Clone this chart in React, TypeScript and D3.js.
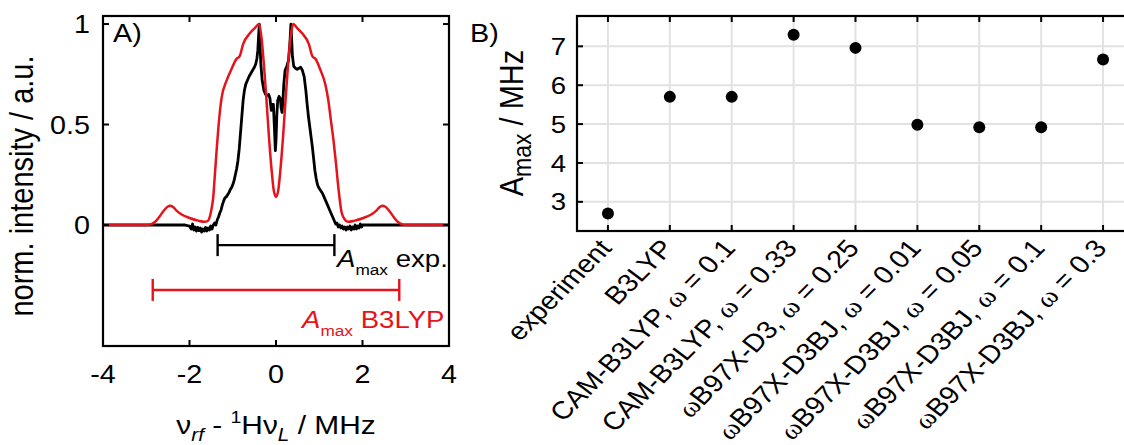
import React from "react";
import * as d3 from "d3";

// A) measured spectrum (black) and B3LYP simulation (red), x in MHz, y normalised
const specExp: [number, number][] = [
  [-4.0, 0], [-2.1, 0], [-2.0, -0.005], [-1.96, -0.02], [-1.93, 0.005], [-1.9, -0.025],
  [-1.87, -0.01], [-1.84, -0.03], [-1.81, -0.012], [-1.78, -0.028], [-1.75, -0.015],
  [-1.72, -0.035], [-1.69, -0.02], [-1.66, -0.03], [-1.63, -0.012], [-1.6, -0.03],
  [-1.57, -0.015], [-1.54, -0.025], [-1.51, -0.005], [-1.48, -0.02], [-1.45, 0.0],
  [-1.42, 0.01], [-1.39, 0.0], [-1.36, 0.025], [-1.33, 0.04], [-1.3, 0.06], [-1.27, 0.075],
  [-1.24, 0.1], [-1.21, 0.12], [-1.18, 0.135], [-1.15, 0.14], [-1.12, 0.15], [-1.09, 0.16],
  [-1.06, 0.175], [-1.03, 0.185], [-1.0, 0.2], [-0.97, 0.22], [-0.94, 0.25], [-0.91, 0.28],
  [-0.88, 0.32], [-0.85, 0.38], [-0.82, 0.46], [-0.79, 0.54], [-0.76, 0.62], [-0.73, 0.67],
  [-0.7, 0.7], [-0.66, 0.72], [-0.62, 0.74], [-0.58, 0.755], [-0.54, 0.77], [-0.5, 0.785],
  [-0.47, 0.8], [-0.44, 0.83], [-0.42, 0.87], [-0.4, 0.95], [-0.385, 1.0], [-0.37, 0.9],
  [-0.35, 0.8], [-0.32, 0.72], [-0.28, 0.67], [-0.24, 0.65], [-0.2, 0.645], [-0.17, 0.65],
  [-0.14, 0.63], [-0.11, 0.57], [-0.09, 0.6], [-0.06, 0.6], [-0.04, 0.5], [-0.015, 0.37],
  [0.0, 0.42], [0.02, 0.55], [0.04, 0.62], [0.07, 0.64], [0.1, 0.63], [0.12, 0.58],
  [0.14, 0.56], [0.16, 0.62], [0.18, 0.7], [0.21, 0.77], [0.25, 0.79], [0.29, 0.82],
  [0.32, 0.9], [0.345, 1.0], [0.36, 0.93], [0.38, 0.84], [0.41, 0.79], [0.45, 0.78],
  [0.49, 0.775], [0.53, 0.78], [0.57, 0.785], [0.61, 0.77], [0.65, 0.74], [0.69, 0.67],
  [0.72, 0.6], [0.75, 0.54], [0.78, 0.49], [0.81, 0.44], [0.84, 0.39], [0.87, 0.33],
  [0.9, 0.27], [0.93, 0.23], [0.96, 0.2], [0.99, 0.185], [1.02, 0.175], [1.05, 0.165],
  [1.08, 0.155], [1.11, 0.14], [1.14, 0.125], [1.17, 0.11], [1.2, 0.095], [1.23, 0.08],
  [1.26, 0.065], [1.29, 0.05], [1.32, 0.035], [1.35, 0.02], [1.38, 0.005], [1.41, 0.01],
  [1.44, -0.01], [1.47, 0.0], [1.5, -0.015], [1.53, -0.005], [1.56, -0.02], [1.59, -0.01],
  [1.62, -0.025], [1.65, -0.01], [1.68, -0.02], [1.71, -0.005], [1.74, -0.025], [1.77, -0.01],
  [1.8, -0.02], [1.83, 0.0], [1.86, -0.02], [1.89, -0.005], [1.92, -0.015], [1.95, 0.005],
  [1.98, -0.01], [2.0, 0], [4.0, 0],
];

const specB3lyp: [number, number][] = [
  [-4.0, 0], [-3.0, 0], [-2.9, 0.003], [-2.8, 0.015], [-2.7, 0.04], [-2.6, 0.07],
  [-2.5, 0.092], [-2.45, 0.096], [-2.38, 0.09], [-2.3, 0.072], [-2.2, 0.055], [-2.0, 0.035],
  [-1.8, 0.022], [-1.65, 0.016], [-1.58, 0.02], [-1.5, 0.07], [-1.45, 0.14], [-1.41, 0.26],
  [-1.37, 0.38], [-1.33, 0.49], [-1.26, 0.63], [-1.14, 0.72], [-1.02, 0.78], [-0.92, 0.825],
  [-0.84, 0.84], [-0.76, 0.9], [-0.6, 0.955], [-0.49, 0.98], [-0.39, 1.0], [-0.34, 0.94],
  [-0.28, 0.8], [-0.22, 0.62], [-0.16, 0.43], [-0.1, 0.27], [-0.05, 0.17], [0.0, 0.14],
  [0.05, 0.17], [0.1, 0.27], [0.16, 0.43], [0.22, 0.62], [0.28, 0.8], [0.34, 0.94],
  [0.4, 1.0], [0.49, 0.98], [0.6, 0.955], [0.76, 0.9], [0.84, 0.84], [0.92, 0.825],
  [1.02, 0.775], [1.14, 0.7], [1.21, 0.62], [1.27, 0.52], [1.33, 0.42], [1.39, 0.3],
  [1.44, 0.19], [1.52, 0.06], [1.6, 0.025], [1.67, 0.016], [1.82, 0.022], [2.02, 0.035],
  [2.22, 0.055], [2.32, 0.072], [2.4, 0.09], [2.47, 0.096], [2.52, 0.092], [2.62, 0.07],
  [2.72, 0.04], [2.82, 0.015], [2.92, 0.003], [3.0, 0], [4.0, 0],
];

const xTicksA = [-4, -2, 0, 2, 4];
const yTicksA = [0, 0.5, 1];

// B) maximum hyperfine coupling per method
const methods = [
  "experiment",
  "B3LYP",
  "CAM-B3LYP, ω = 0.1",
  "CAM-B3LYP, ω = 0.33",
  "ωB97X-D3, ω = 0.25",
  "ωB97X-D3BJ, ω = 0.01",
  "ωB97X-D3BJ, ω = 0.05",
  "ωB97X-D3BJ, ω = 0.1",
  "ωB97X-D3BJ, ω = 0.3",
];
const amax = [2.7, 5.7, 5.7, 7.3, 6.96, 4.98, 4.92, 4.92, 6.66];
const yTicksB = [3, 4, 5, 6, 7];

const RED = "#e5131b";
const FONT = "'Liberation Sans', Arial, Helvetica, sans-serif";
const SX = 1.15; // the figure's lettering is a bit wide

function T({ x, y, rot = 0, anchor = "start", size = 24, fill = "#000", dy, children }: any) {
  return (
    <text
      transform={`translate(${x},${y}) scale(${SX},1)${rot ? ` rotate(${rot})` : ""}`}
      textAnchor={anchor}
      fontSize={size}
      fill={fill}
      dy={dy}
    >
      {children}
    </text>
  );
}

function omegaLabel(s: string) {
  const parts = s.split("ω");
  const out: any[] = [];
  parts.forEach((p, i) => {
    if (i > 0)
      out.push(
        <tspan key={"w" + i} fontFamily="'Liberation Serif', 'DejaVu Serif', serif">
          ω
        </tspan>
      );
    if (p) out.push(<tspan key={"p" + i}>{p}</tspan>);
  });
  return out;
}

export default function App() {
  // panel A
  const ax = d3.scaleLinear().domain([-4, 4]).range([103, 449]);
  const ay = d3.scaleLinear().domain([-0.602, 1.04]).range([346, 16]);
  const line = d3
    .line<[number, number]>()
    .x((d) => ax(d[0]))
    .y((d) => ay(d[1]));
  const smooth = d3
    .line<[number, number]>()
    .x((d) => ax(d[0]))
    .y((d) => ay(d[1]))
    .curve(d3.curveMonotoneX);

  const barExpY = ay(-0.1);
  const barB3Y = ay(-0.323);

  // panel B
  const bx = d3.scalePoint<string>().domain(methods).range([577, 1134]).padding(0.5);
  const by = d3.scaleLinear().domain([2.25, 7.78]).range([231, 16]);
  const [bx0, bx1] = bx.range();
  const [by0, by1] = by.range();

  const tick = 6;

  return (
    <svg
      width={1124}
      height={445}
      style={{ position: "absolute", left: 0, top: 0, background: "#fff" }}
      fontFamily={FONT}
    >
      {/* ---------- A ---------- */}
      <path d={line(specExp) ?? ""} fill="none" stroke="#000" strokeWidth={2.8} strokeLinejoin="round" />
      <path d={smooth(specB3lyp) ?? ""} fill="none" stroke={RED} strokeWidth={2.5} />

      {/* A_max bars, half width each side */}
      <g stroke="#000" strokeWidth={2.4}>
        <line x1={ax(-amax[0] / 2)} x2={ax(amax[0] / 2)} y1={barExpY} y2={barExpY} />
        <line x1={ax(-amax[0] / 2)} x2={ax(-amax[0] / 2)} y1={barExpY - 11} y2={barExpY + 11} />
        <line x1={ax(amax[0] / 2)} x2={ax(amax[0] / 2)} y1={barExpY - 11} y2={barExpY + 11} />
      </g>
      <g stroke={RED} strokeWidth={2.4}>
        <line x1={ax(-amax[1] / 2)} x2={ax(amax[1] / 2)} y1={barB3Y} y2={barB3Y} />
        <line x1={ax(-amax[1] / 2)} x2={ax(-amax[1] / 2)} y1={barB3Y - 11} y2={barB3Y + 11} />
        <line x1={ax(amax[1] / 2)} x2={ax(amax[1] / 2)} y1={barB3Y - 11} y2={barB3Y + 11} />
      </g>
      <T x={337} y={267} size={24}>
        <tspan fontStyle="italic">A</tspan>
        <tspan fontSize={15} dy={8}>max</tspan>
        <tspan dy={-8}> exp.</tspan>
      </T>
      <T x={302} y={328} size={24} fill={RED}>
        <tspan fontStyle="italic">A</tspan>
        <tspan fontSize={15} dy={8}>max</tspan>
        <tspan dy={-8}> B3LYP</tspan>
      </T>

      <rect x={103} y={16} width={346} height={330} fill="none" stroke="#000" strokeWidth={2.2} />
      <g stroke="#000" strokeWidth={2}>
        {xTicksA.slice(1, -1).map((t) => (
          <g key={t}>
            <line x1={ax(t)} x2={ax(t)} y1={16} y2={16 + tick} />
            <line x1={ax(t)} x2={ax(t)} y1={346} y2={346 - tick} />
          </g>
        ))}
        {yTicksA.map((t) => (
          <g key={t}>
            <line x1={103} x2={103 + tick} y1={ay(t)} y2={ay(t)} />
            <line x1={449} x2={449 - tick} y1={ay(t)} y2={ay(t)} />
          </g>
        ))}
      </g>
      {xTicksA.map((t) => (
        <T key={t} x={ax(t)} y={383} anchor="middle" size={25}>
          {t}
        </T>
      ))}
      {yTicksA.map((t) => (
        <T key={t} x={90} y={ay(t)} anchor="end" size={25} dy="0.36em">
          {t}
        </T>
      ))}
      <T x={113} y={42} size={25}>A)</T>
      <T x={33} y={186} rot={-90} anchor="middle" size={29}>
        norm. intensity / a.u.
      </T>
      <T x={276} y={434} anchor="middle" size={26}>
        <tspan>ν</tspan>
        <tspan fontStyle="italic" fontSize={18} dy={7}>rf</tspan>
        <tspan dy={-7}> - </tspan>
        <tspan fontSize={17} dy={-11}>1</tspan>
        <tspan dy={11}>H</tspan>
        <tspan>ν</tspan>
        <tspan fontStyle="italic" fontSize={18} dy={7}>L</tspan>
        <tspan dy={-7}> / MHz</tspan>
      </T>

      {/* ---------- B ---------- */}
      <g stroke="#e2e2e2" strokeWidth={2}>
        {methods.map((m) => (
          <line key={m} x1={bx(m)} x2={bx(m)} y1={by1} y2={by0} />
        ))}
        {yTicksB.map((t) => (
          <line key={t} x1={bx0} x2={bx1} y1={by(t)} y2={by(t)} />
        ))}
      </g>
      <rect x={bx0} y={by1} width={bx1 - bx0} height={by0 - by1} fill="none" stroke="#000" strokeWidth={2.2} />
      <g stroke="#000" strokeWidth={2}>
        {methods.map((m) => (
          <g key={m}>
            <line x1={bx(m)} x2={bx(m)} y1={by1} y2={by1 + tick} />
            <line x1={bx(m)} x2={bx(m)} y1={by0} y2={by0 - tick} />
          </g>
        ))}
        {yTicksB.map((t) => (
          <line key={t} x1={bx0} x2={bx0 + tick} y1={by(t)} y2={by(t)} />
        ))}
      </g>
      {methods.map((m, i) => (
        <circle key={m} cx={bx(m)} cy={by(amax[i])} r={6} fill="#000" />
      ))}
      {yTicksB.map((t) => (
        <T key={t} x={566} y={by(t)} anchor="end" size={24} dy="0.36em">
          {t}
        </T>
      ))}
      {methods.map((m) => (
        <T key={m} x={(bx(m) ?? 0) + 5} y={249} rot={-49} anchor="end" size={25}>
          {omegaLabel(m)}
        </T>
      ))}
      <T x={470} y={42} size={25}>B)</T>
      <T x={523} y={123} rot={-90} anchor="middle" size={29}>
        <tspan>A</tspan>
        <tspan fontSize={23} dy={7}>max</tspan>
        <tspan dy={-7}> / MHz</tspan>
      </T>
    </svg>
  );
}
